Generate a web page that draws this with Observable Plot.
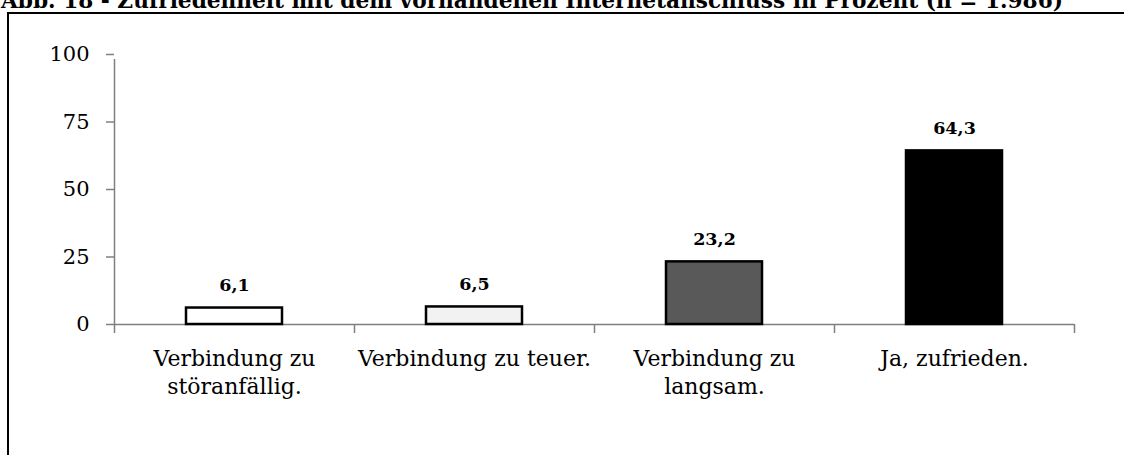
<!DOCTYPE html>
<html>
<head>
<meta charset="utf-8">
<script src="https://cdn.jsdelivr.net/npm/d3@7"></script>
<script src="https://cdn.jsdelivr.net/npm/@observablehq/plot@0.6"></script>
<style>
  html, body { margin: 0; padding: 0; background: #fff; }
  #wrap { position: relative; width: 1124px; height: 455px; overflow: hidden; background: #fff; }
  #frame { position: absolute; left: 7px; top: 12px; width: 1300px; height: 700px; border: 2px solid #000; box-sizing: border-box; }
  #title { position: absolute; left: 0; top: 0; }
  #chart { position: absolute; left: 0; top: 0; }
</style>
</head>
<body>
<div id="wrap">
  <div id="frame"></div>
  <svg id="title" width="1124" height="14">
    <text x="1" y="8" font-family="DejaVu Serif" font-weight="bold" font-size="22" textLength="1062" lengthAdjust="spacingAndGlyphs">Abb. 18 - Zufriedenheit mit dem vorhandenen Internetanschluss in Prozent (n = 1.986)</text>
  </svg>
  <div id="chart"></div>
</div>
<script>
const categories = ["Verbindung zu\nstöranfällig.", "Verbindung zu teuer.", "Verbindung zu\nlangsam.", "Ja, zufrieden."];
const values = [6.1, 6.5, 23.2, 64.3];
const valueLabels = ["6,1", "6,5", "23,2", "64,3"];
const fills = ["#ffffff", "#f2f2f2", "#595959", "#000000"];
const yTicks = [0, 25, 50, 75, 100];

const data = categories.map((c, i) => ({i, cat: c, value: values[i], label: valueLabels[i], fill: fills[i]}));
const boundaries = d3.range(categories.length + 1);
const centers = categories.map((c, i) => i + 0.5);

const chart = Plot.plot({
  width: 1124,
  height: 455,
  marginLeft: 114,
  marginRight: 50,
  marginTop: 54,
  marginBottom: 131,
  style: {background: "transparent", fontFamily: "DejaVu Serif", fontSize: "21px", color: "#000"},
  x: {type: "linear", domain: [0, categories.length], axis: null},
  y: {domain: [0, 100], axis: null},
  color: {type: "identity"},
  marks: [
    Plot.ruleX([0], {y1: 0, y2: 100, stroke: "#7f7f7f", strokeWidth: 1.5, insetBottom: -5}),
    Plot.axisY({ticks: yTicks, label: null, tickSize: 8, tickPadding: 17, stroke: "#7f7f7f", fill: "#000", fontSize: 21, strokeWidth: 1.5}),
    Plot.ruleY([0], {stroke: "#7f7f7f", strokeWidth: 1.5}),
    Plot.axisX({ticks: boundaries, label: null, tickSize: 9, tickFormat: () => "", stroke: "#7f7f7f", strokeWidth: 1.5}),
    Plot.axisX({ticks: centers, label: null, tickSize: 0, tickPadding: 21, tickFormat: v => categories[Math.floor(v)], fill: "#000", fontSize: 22, lineHeight: 1.3}),
    Plot.rectY(data, {x1: d => d.i + 0.3, x2: d => d.i + 0.7, y1: 0, y2: "value", fill: "fill", stroke: "#000", strokeWidth: 2.5}),
    Plot.text(data, {x: d => d.i + 0.5, y: "value", text: "label", lineAnchor: "bottom", dy: -17, fontWeight: "bold", fontSize: 17.5, fill: "#000"})
  ]
});
document.getElementById("chart").appendChild(chart);
</script>
</body>
</html>
